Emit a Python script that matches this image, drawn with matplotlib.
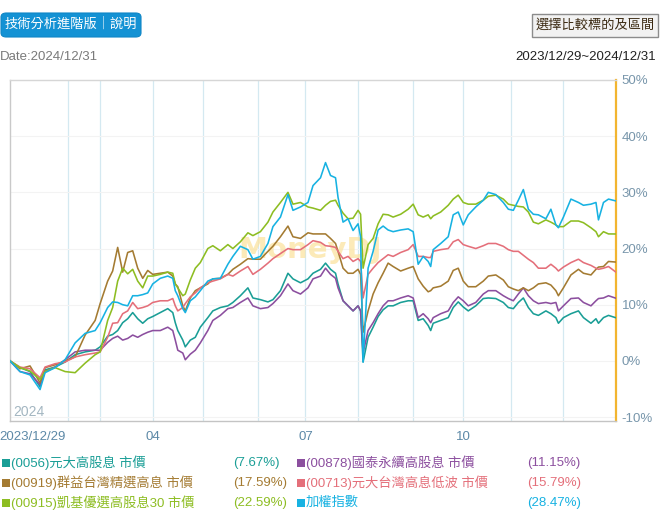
import matplotlib
matplotlib.use('Agg')
import matplotlib.pyplot as plt
from matplotlib.patches import FancyBboxPatch, Rectangle
import matplotlib.transforms as mtransforms

# ---------------- data (trading-day index, return %) ----------------
days = [0, 4, 8, 12, 14, 18, 22, 26, 30, 34, 36, 39, 41, 43, 45, 47, 49, 51, 53, 55,
        57, 60, 63, 65, 66, 67, 69, 70, 72, 74, 76, 79, 81, 84, 87, 89, 92, 95, 97, 100,
        103, 105, 108, 111, 113, 116, 119, 121, 124, 126, 128, 130, 131, 133, 135, 137, 139, 140, 141, 143,
        145, 147, 149, 151, 153, 156, 159, 161, 163, 165, 167, 168, 169, 172, 175, 177, 179, 181, 183, 186,
        189, 191, 194, 197, 199, 201, 203, 205, 207, 209, 211, 214, 216, 218, 219, 221, 224, 227, 229, 232,
        234, 235, 237, 239, 242]

s0056 = [0, -1.2, -1.9, -4.6, -1.6, -1.1, -0.2, 1.1, 1.6, 1.9,
         2.5, 4.4, 4.7, 5.4, 6.8, 7.5, 8.6, 7.5, 6.7, 7.5,
         7.9, 8.6, 9.3, 8.6, 6.8, 5.4, 3.7, 2.5, 3.7, 4.2,
         6.0, 7.7, 8.9, 9.5, 9.8, 10.4, 11.6, 13.0, 11.2, 10.9,
         10.5, 10.9, 12.5, 15.6, 14.6, 13.9, 14.6, 15.6, 16.3, 17.4,
         16.3, 15.6, 13.7, 10.7, 9.8, 8.9, 9.8, 8.9, -0.2, 4.2,
         6.0, 7.9, 9.1, 9.8, 9.8, 10.4, 10.7, 10.7, 7.2, 7.5,
         6.3, 5.4, 6.7, 7.2, 7.7, 9.5, 10.5, 9.6, 8.9, 9.8,
         11.1, 11.2, 11.1, 10.4, 9.5, 9.3, 10.4, 11.2, 9.5, 8.4,
         8.1, 8.9, 8.4, 7.7, 6.7, 7.7, 8.4, 8.9, 7.7, 6.7,
         7.5, 6.7, 7.7, 8.1, 7.67]

s00878 = [0, -1.9, -2.3, -4.2, -1.9, -1.1, 0.2, 1.6, 1.9, 1.9,
          1.9, 3.3, 4.0, 4.4, 3.7, 4.0, 4.6, 4.2, 4.7, 5.1,
          5.4, 5.4, 6.0, 5.4, 3.7, 1.9, 1.4, 0.2, 1.2, 1.9,
          3.2, 5.4, 7.2, 8.1, 9.3, 9.5, 10.4, 11.2, 9.8, 9.3,
          9.5, 10.2, 11.6, 13.7, 12.5, 11.9, 13.0, 14.6, 15.1, 16.5,
          15.4, 14.7, 13.0, 10.7, 9.8, 8.9, 9.8, 8.9, 1.4, 5.4,
          6.8, 8.4, 9.8, 10.7, 10.7, 11.2, 11.6, 11.2, 7.7, 8.4,
          7.5, 6.8, 7.7, 8.4, 8.9, 10.4, 11.4, 10.7, 9.8, 10.4,
          11.9, 12.5, 12.5, 11.6, 11.1, 10.7, 11.9, 13.0, 11.6, 10.7,
          10.2, 10.4, 10.2, 10.4, 8.9, 9.8, 11.1, 11.2, 10.4, 9.8,
          10.7, 11.1, 11.2, 11.6, 11.15]

s00919 = [0, -1.4, -0.9, -3.9, -1.2, -0.7, 0.0, 0.7, 4.6, 7.2,
          10.2, 14.2, 16.0, 20.2, 15.8, 19.3, 19.6, 16.5, 14.7, 16.1,
          15.4, 15.6, 15.8, 15.1, 13.7, 13.2, 9.8, 8.9, 11.2, 12.5,
          13.0, 13.7, 14.6, 14.7, 15.4, 16.3, 17.2, 18.2, 18.1, 18.1,
          19.5, 20.4, 22.1, 24.0, 22.1, 21.8, 22.8, 22.6, 22.6, 22.6,
          21.8, 20.9, 19.5, 16.5, 15.6, 15.6, 16.3, 15.4, 5.1, 8.9,
          11.9, 13.9, 15.6, 17.4, 16.8, 16.0, 16.5, 16.8, 14.6, 13.3,
          12.3, 12.5, 13.0, 13.3, 14.2, 16.1, 16.5, 14.2, 13.2, 13.2,
          14.2, 15.1, 15.3, 14.4, 13.2, 12.8, 12.5, 13.0, 12.5, 13.0,
          13.7, 13.9, 13.5, 12.5, 11.6, 13.0, 15.3, 16.3, 15.6, 15.3,
          16.3, 16.7, 16.8, 17.7, 17.59]

s00713 = [0, -1.1, -1.4, -3.0, -1.1, -0.5, -0.2, 0.7, 1.1, 1.4,
          1.6, 4.2, 6.7, 6.8, 8.4, 8.9, 10.4, 9.3, 9.5, 9.8,
          10.4, 10.7, 10.7, 11.1, 9.8, 8.9, 9.5, 10.2, 11.4, 12.1,
          13.0, 13.9, 14.2, 14.6, 15.4, 15.1, 16.0, 16.8, 15.4, 16.3,
          17.4, 18.2, 19.1, 20.0, 19.8, 19.8, 20.7, 21.4, 21.1, 20.5,
          20.4, 20.2, 19.5, 18.2, 18.6, 17.7, 18.2, 17.7, 11.2, 15.4,
          16.5, 17.5, 18.2, 18.9, 18.6, 19.3, 19.8, 20.7, 18.6, 18.6,
          18.4, 18.4, 19.5, 19.8, 20.0, 21.2, 21.6, 20.7, 20.4, 20.0,
          20.5, 20.9, 20.9, 20.4, 19.8, 19.5, 19.5, 18.8, 18.1, 17.5,
          16.5, 16.5, 17.2, 16.5, 16.0, 16.7, 17.5, 18.1, 17.5, 17.0,
          16.5, 16.3, 16.5, 16.8, 15.79]

s00915 = [0, -1.2, -1.8, -3.3, -1.9, -1.2, -1.9, -2.1, -0.4, 1.1,
          1.6, 7.2, 9.5, 14.2, 16.5, 15.5, 16.3, 14.2, 13.0, 15.1,
          15.1, 15.4, 15.8, 15.6, 13.7, 13.0, 11.6, 11.9, 14.4, 16.5,
          17.5, 20.0, 20.5, 19.6, 20.7, 20.0, 21.2, 22.8, 22.3, 23.0,
          24.7, 26.5, 28.2, 30.0, 27.9, 28.2, 27.4, 27.2, 26.8, 27.7,
          28.4, 28.6, 27.7, 26.3, 25.3, 25.4, 26.8, 26.1, 16.5, 20.7,
          21.8, 24.4, 26.1, 26.0, 25.6, 26.1, 27.0, 27.9, 26.0, 25.6,
          26.0, 25.3, 25.8, 26.5, 27.7, 28.8, 29.5, 28.2, 27.9, 27.9,
          28.6, 29.3, 29.5, 28.8, 27.9, 27.7, 27.5, 27.4, 26.5, 24.7,
          24.4, 25.1, 24.7, 24.2, 23.9, 23.9, 24.9, 24.9, 24.6, 23.7,
          23.0, 22.1, 23.0, 22.6, 22.59]

taiex = [0, -1.9, -2.5, -5.1, -2.1, -1.2, 0.2, 3.2, 4.9, 5.4,
         6.8, 9.5, 10.5, 10.4, 10.0, 9.8, 11.6, 11.6, 11.8, 12.1,
         13.7, 14.7, 15.1, 14.7, 12.5, 11.6, 9.3, 8.6, 10.7, 11.4,
         12.5, 14.2, 14.6, 14.7, 17.2, 18.6, 20.4, 19.8, 18.1, 18.6,
         20.9, 23.9, 25.6, 29.6, 26.8, 27.4, 28.2, 31.2, 32.6, 35.3,
         33.0, 32.6, 29.1, 24.7, 25.3, 23.2, 24.4, 22.1, -0.2, 16.5,
         19.5, 23.3, 24.0, 23.3, 23.0, 23.3, 23.5, 23.0, 17.2, 18.6,
         17.7, 16.8, 19.8, 20.9, 22.1, 26.0, 26.5, 24.2, 26.0, 27.4,
         28.6, 30.0, 29.6, 28.2, 27.0, 26.8, 28.6, 30.5, 27.0, 26.1,
         26.0, 25.3, 27.0, 24.2, 23.7, 25.6, 28.8, 28.2, 27.7, 27.9,
         28.2, 25.1, 28.2, 28.8, 28.47]

names = ['(0056)元大高股息 市價', '(00878)國泰永續高股息 市價', '(00919)群益台灣精選高息 市價',
         '(00713)元大台灣高息低波 市價', '(00915)凱基優選高股息30 市價', '加權指數']
finals = ['(7.67%)', '(11.15%)', '(17.59%)', '(15.79%)', '(22.59%)', '(28.47%)']
colors = ['#1a9e96', '#8c4f9f', '#a47b32', '#e46f7a', '#8dbd22', '#17b2e2']
values = [s0056, s00878, s00919, s00713, s00915, taiex]

month_starts = [23, 36, 57, 77, 99, 118, 139, 161, 181, 200, 221]
tick_pos = [0, 57, 118, 181]
tick_labels = ['2023/12/29', '04', '07', '10']
y_ticks = [-10, 0, 10, 20, 30, 40, 50]

# ---------------- figure ----------------
W, H = 663, 520
fig = plt.figure(figsize=(W / 100, H / 100), dpi=100)
FAM = ['Liberation Sans', 'Noto Sans CJK TC', 'DejaVu Sans']
CJK = ['Noto Sans CJK TC', 'DejaVu Sans']

def fx(x):
    return x / W

def fy(y):
    return 1 - y / H

ax = fig.add_axes([fx(10), fy(421), 606 / W, 341 / H])
ax.set_xlim(0, 242)
ax.set_ylim(-10.7, 50)

for m in month_starts:
    ax.axvline(m, color='#d4e9f1', lw=0.9, zorder=0)
for yv in y_ticks:
    ax.axhline(yv, color='#f3f3f3', lw=0.8, zorder=0)

ax.text(0.495, 0.50, 'MoneyDJ', transform=ax.transAxes, ha='center', va='center',
        fontsize=21, fontweight='bold', color='#fbe3a0', alpha=0.75, zorder=1,
        family='DejaVu Sans')
ax.text(0.006, 0.006, '2024', transform=ax.transAxes, ha='left', va='bottom',
        fontsize=10, color='#a3b6c1', family=FAM, zorder=1)

for vals, col in zip(values, colors):
    ax.plot(days, vals, color=col, lw=1.15, zorder=3, solid_joinstyle='round')

ax.yaxis.tick_right()
ax.set_yticks(y_ticks)
ax.set_yticklabels([f'{v}%' for v in y_ticks])
ax.tick_params(axis='y', length=0, pad=4, labelsize=9.5, labelcolor='#7896ab')
ax.set_xticks(tick_pos)
ax.set_xticklabels(tick_labels)
ax.tick_params(axis='x', length=0, pad=7, labelsize=9.5, labelcolor='#5d89a7')
for lab in ax.get_xticklabels() + ax.get_yticklabels():
    lab.set_family(FAM)
first = ax.get_xticklabels()[0]
first.set_ha('left')
first.set_transform(first.get_transform() + mtransforms.ScaledTranslation(-0.11, 0, fig.dpi_scale_trans))

for side, col in [('left', '#c9c9c9'), ('top', '#d6d6d6'), ('bottom', '#c4c4c4')]:
    ax.spines[side].set_color(col)
    ax.spines[side].set_linewidth(1.0)
ax.spines['right'].set_color('#f2b530')
ax.spines['right'].set_linewidth(1.6)

# ---------------- header ----------------
btn = FancyBboxPatch((fx(1), fy(37)), fx(140), 24 / H, boxstyle='round,pad=0,rounding_size=0.008',
                     transform=fig.transFigure, facecolor='#1492d4', edgecolor='#0f86c6', lw=0.8)
fig.patches.append(btn)
fig.text(fx(71), fy(24.5), '技術分析進階版｜說明', ha='center', va='center', color='white',
         fontsize=9.5, family=CJK)

btn2 = Rectangle((fx(532), fy(37)), fx(126), 23 / H, transform=fig.transFigure,
                 facecolor='#f2f2f2', edgecolor='#8c8c8c', lw=1.0)
fig.patches.append(btn2)
fig.text(fx(595), fy(25), '選擇比較標的及區間', ha='center', va='center', color='#3b2a12',
         fontsize=9.5, family=CJK)

fig.text(fx(0), fy(57), 'Date:2024/12/31', ha='left', va='center', color='#7a7a7a',
         fontsize=9.5, family=FAM)
fig.text(fx(656), fy(57), '2023/12/29~2024/12/31', ha='right', va='center', color='#222222',
         fontsize=9.5, family=FAM)

# ---------------- legend ----------------
rows_y = [463, 483, 503]
col_x = [(2, 233), (297, 527)]
for i, (nm, fin, col) in enumerate(zip(names, finals, colors)):
    r, c = divmod(i, 2)
    y = rows_y[r]
    sx, px = col_x[c]
    sq = Rectangle((fx(sx), fy(y + 4)), 8 / W, 8 / H, transform=fig.transFigure,
                   facecolor=col, edgecolor='none')
    fig.patches.append(sq)
    fig.text(fx(sx + 9), fy(y), nm, ha='left', va='center', color=col, fontsize=9.5, family=FAM)
    fig.text(fx(px), fy(y), fin, ha='left', va='center', color=col, fontsize=9.5, family=FAM)

fig.savefig('out.png', dpi=100)
